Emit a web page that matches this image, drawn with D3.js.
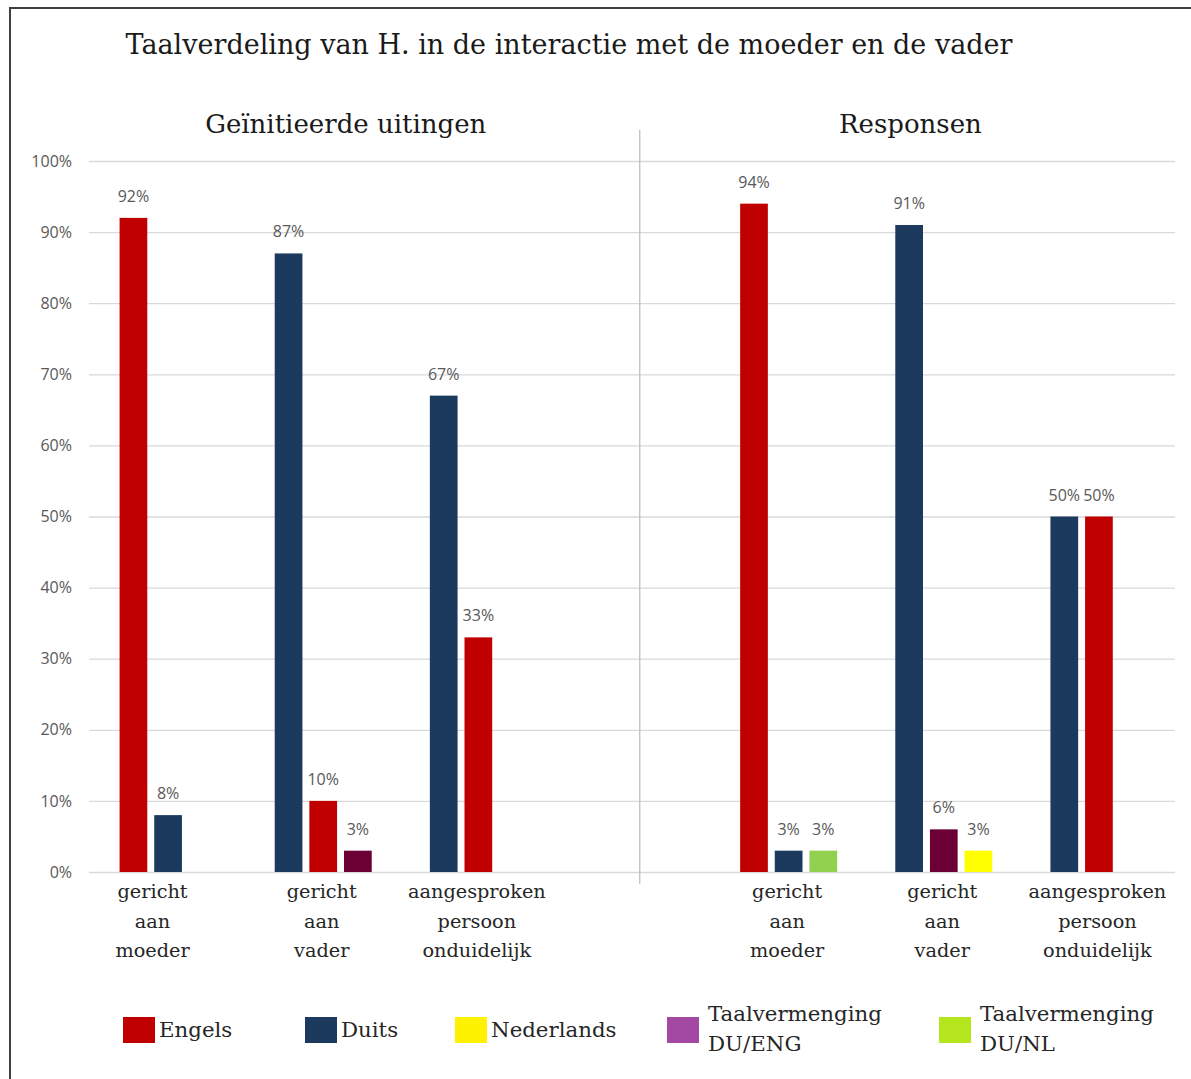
<!DOCTYPE html>
<html>
<head>
<meta charset="utf-8">
<script src="https://cdn.jsdelivr.net/npm/d3@7"></script>
<style>
  html, body { margin: 0; padding: 0; background: #fff; }
  svg { display: block; }
</style>
</head>
<body>
<svg id="chart" width="1191" height="1079"></svg>
<script>
// ---------- data ----------
const chartTitle = "Taalverdeling van H. in de interactie met de moeder en de vader";
const panels = ["Geïnitieerde uitingen", "Responsen"];
const categories = ["gericht aan moeder", "gericht aan vader", "aangesproken persoon onduidelijk"];
const seriesNames = ["Engels", "Duits", "Nederlands", "Taalvermenging DU/ENG", "Taalvermenging DU/NL"];
const legendColors = ["#C00000", "#1B3A5E", "#FFF200", "#A349A4", "#B5E61D"];
const barColors = ["#C00000", "#1B3A5E", "#FFFF00", "#6B0035", "#92D050"];
// series index of each bar (left to right) per category
const initiatedSeries = [[0, 1], [1, 0, 3], [1, 0]];
const initiatedValues = [[92, 8], [87, 10, 3], [67, 33]];
const responseSeries = [[0, 1, 4], [1, 3, 2], [1, 0]];
const responseValues = [[94, 3, 3], [91, 6, 3], [50, 50]];
const yTicks = [0, 10, 20, 30, 40, 50, 60, 70, 80, 90, 100];

// ---------- setup ----------
const svg = d3.select("#chart");
const serif = "'DejaVu Serif', 'Liberation Serif', serif";
const sans = "'Open Sans', 'Liberation Sans', sans-serif";

const slotKeys = ["I0", "I1", "I2", "gap", "R0", "R1", "R2"];
const x = d3.scaleBand().domain(slotKeys).range([89, 1175]).paddingInner(0).paddingOuter(0);
const xInner = d3.scaleBand().domain([0, 1, 2]).range([-47, 50]).paddingInner(0.2);
const y = d3.scaleLinear().domain([0, 100]).range([872, 161]);

// outer border
svg.append("rect").attr("x", 10).attr("y", 8).attr("width", 1200).attr("height", 1100)
  .attr("fill", "none").attr("stroke", "#404040").attr("stroke-width", 2);

// title
svg.append("text").attr("x", 569).attr("y", 54).attr("text-anchor", "middle")
  .attr("font-family", serif).attr("font-size", 27).attr("fill", "#1a1a1a")
  .text(chartTitle);

// gridlines + y axis
const yAxis = d3.axisLeft(y).tickValues(yTicks).tickFormat(d => d + "%")
  .tickSize(-(1175 - 89)).tickPadding(17);
const gAxis = svg.append("g").attr("transform", "translate(89,0)").call(yAxis);
gAxis.select(".domain").remove();
gAxis.selectAll(".tick line").attr("stroke", "#D9D9D9").attr("stroke-width", 1.3);
gAxis.selectAll(".tick text").attr("font-family", sans).attr("font-size", 16)
  .attr("fill", "#595959");

// divider between panels
const divX = x("gap") + x.bandwidth() * 0.55;
svg.append("line").attr("x1", divX).attr("x2", divX).attr("y1", 130).attr("y2", 884)
  .attr("stroke", "#BFBFBF").attr("stroke-width", 1.3);

// panel subtitles
const panelCenters = [(x("I0") + x("gap")) / 2 + 24, (divX + 1175) / 2 + 3];
panels.forEach((p, i) => {
  svg.append("text").attr("x", panelCenters[i]).attr("y", 133).attr("text-anchor", "middle")
    .attr("font-family", serif).attr("font-size", 26).attr("fill", "#1a1a1a").text(p);
});

// bars
const panelData = [
  { prefix: "I", series: initiatedSeries, values: initiatedValues },
  { prefix: "R", series: responseSeries, values: responseValues }
];
const bars = [];
panelData.forEach(pd => {
  categories.forEach((c, ci) => {
    pd.values[ci].forEach((v, si) => {
      bars.push({ key: pd.prefix + ci, slot: si, series: pd.series[ci][si], value: v });
    });
  });
});

const gBars = svg.append("g");
gBars.selectAll("rect").data(bars).join("rect")
  .attr("x", d => x(d.key) + x.bandwidth() / 2 + xInner(d.slot))
  .attr("y", d => y(d.value))
  .attr("width", xInner.bandwidth())
  .attr("height", d => y(0) - y(d.value))
  .attr("fill", d => barColors[d.series]);

gBars.selectAll("text").data(bars).join("text")
  .attr("x", d => x(d.key) + x.bandwidth() / 2 + xInner(d.slot) + xInner.bandwidth() / 2)
  .attr("y", d => y(d.value) - 16)
  .attr("text-anchor", "middle")
  .attr("font-family", sans).attr("font-size", 16).attr("fill", "#595959")
  .text(d => d.value + "%");

// category labels
["I", "R"].forEach(prefix => {
  categories.forEach((c, ci) => {
    const cx = x(prefix + ci) + x.bandwidth() / 2 - (ci === 0 && prefix === "I" ? 14 : 0);
    const t = svg.append("text").attr("text-anchor", "middle")
      .attr("font-family", serif).attr("font-size", 19.3).attr("fill", "#262626");
    c.split(" ").forEach((w, li) => {
      t.append("tspan").attr("x", cx).attr("y", 898 + li * 29.5).text(w);
    });
  });
});

// legend
const legendX = [123, 305, 455, 667, 939];
seriesNames.forEach((name, i) => {
  const g = svg.append("g").attr("transform", `translate(${legendX[i]},1017)`);
  g.append("rect").attr("width", 32).attr("height", 26).attr("fill", legendColors[i]);
  const words = name.split(" ");
  const t = g.append("text").attr("font-family", serif).attr("font-size", 21.3).attr("fill", "#262626");
  if (words.length === 1) {
    t.append("tspan").attr("x", 36).attr("y", 20).text(name);
  } else {
    t.append("tspan").attr("x", 41).attr("y", 4).text(words[0]);
    t.append("tspan").attr("x", 41).attr("y", 34).text(words.slice(1).join(" "));
  }
});
</script>
</body>
</html>
